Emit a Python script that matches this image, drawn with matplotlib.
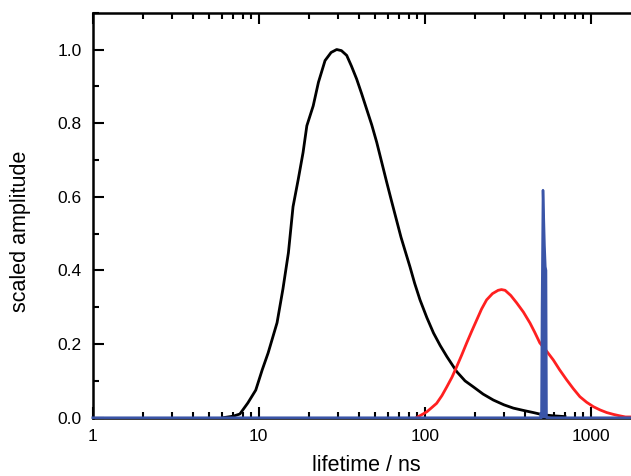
import matplotlib
matplotlib.use("Agg")
import matplotlib.pyplot as plt
from matplotlib.ticker import LogLocator, MultipleLocator, FixedLocator, FixedFormatter

plt.rcParams['font.family'] = ['Liberation Sans', 'DejaVu Sans']

# Black distribution (lifetime ns, scaled amplitude)
black_x = [6.1, 7.0, 7.7, 8.6, 9.6, 10.5, 11.4, 12.9, 14.0, 15.1, 16.1, 17.3, 18.5, 19.5,
           21.3, 22.9, 25.1, 27.3, 29.5, 31.5, 33.9, 36.2, 38.9, 41.7, 44.7, 48.0, 51.4,
           55.0, 59.0, 63.0, 67.8, 72.0, 76.0, 81.5, 87.0, 93.7, 103, 113, 124, 136, 156,
           175, 196, 225, 259, 300, 342, 400, 451, 514, 600, 700]
black_y = [0.0, 0.004, 0.01, 0.04, 0.075, 0.13, 0.176, 0.258, 0.35, 0.448, 0.573, 0.647,
           0.72, 0.793, 0.847, 0.911, 0.970, 0.992, 1.0, 0.997, 0.984, 0.955, 0.92, 0.88,
           0.838, 0.795, 0.748, 0.695, 0.640, 0.590, 0.535, 0.490, 0.455, 0.410, 0.365,
           0.32, 0.272, 0.23, 0.196, 0.166, 0.125, 0.10, 0.084, 0.064, 0.048, 0.035,
           0.026, 0.019, 0.014, 0.008, 0.005, 0.003]

# Red distribution
red_x = [89, 95, 103, 110, 118, 127, 136, 146, 156, 167, 179, 192, 206, 220, 236, 256,
         277, 290, 305, 330, 358, 393, 431, 460, 494, 540, 595, 650, 716, 785, 861, 945,
         1037, 1140, 1248, 1370, 1500, 1620, 1750]
red_y = [0.0, 0.007, 0.016, 0.027, 0.039, 0.06, 0.084, 0.11, 0.139, 0.17, 0.203, 0.235,
         0.266, 0.295, 0.32, 0.337, 0.346, 0.348, 0.346, 0.332, 0.312, 0.287, 0.257, 0.232,
         0.203, 0.182, 0.157, 0.13, 0.103, 0.079, 0.057, 0.042, 0.030, 0.021, 0.014,
         0.009, 0.005, 0.002, 0.002]

# Blue distribution (baseline + narrow spike)
blue_x = [1, 498, 501, 503, 505, 509, 516, 521, 527, 533, 538, 542, 1750]
blue_y = [0.0, 0.0, 0.012, 0.006, 0.0, 0.3, 0.618, 0.55, 0.466, 0.41, 0.40, 0.0, 0.0]

x_ticks = [1, 10, 100, 1000]
x_ticklabels = ['1', '10', '100', '1000']
y_ticks = [0.0, 0.2, 0.4, 0.6, 0.8, 1.0]
y_ticklabels = ['0.0', '0.2', '0.4', '0.6', '0.8', '1.0']

fig = plt.figure(figsize=(6.31, 4.76), dpi=100)
ax_w = (631 - 92.7) / 631 + 0.02
ax = fig.add_axes([92.7 / 631, 1 - 417.7 / 476, ax_w, (417.7 - 12.7) / 476])

ax.plot(black_x, black_y, color='black', lw=2.0, zorder=3)
ax.plot(red_x, red_y, color='#ff2020', lw=2.0, zorder=4)
ax.fill_between(blue_x, blue_y, 0, color='#3a55a8', lw=0, zorder=5)
ax.plot(blue_x, blue_y, color='#3a55a8', lw=1.8, zorder=6, clip_on=False)

ax.set_xscale('log')
ax.set_xlim(1, 10 ** (ax_w * 631 / 166.0))
ax.set_ylim(0, 1.1)

ax.xaxis.set_major_locator(FixedLocator(x_ticks))
ax.xaxis.set_major_formatter(FixedFormatter(x_ticklabels))
ax.xaxis.set_minor_locator(LogLocator(base=10, subs=[2, 3, 4, 5, 6, 7, 8, 9]))
ax.xaxis.set_minor_formatter(plt.NullFormatter())
ax.yaxis.set_major_locator(FixedLocator(y_ticks))
ax.yaxis.set_major_formatter(FixedFormatter(y_ticklabels))
ax.yaxis.set_minor_locator(MultipleLocator(0.1))

ax.tick_params(which='both', direction='in', top=True, right=False, width=1.5)
ax.tick_params(which='major', length=8, pad=8, labelsize=12.5)
ax.tick_params(which='minor', length=4.5)

for s in ['left', 'top', 'bottom']:
    ax.spines[s].set_linewidth(1.8)
ax.spines['right'].set_visible(False)

fig.text(20.5 / 631, 1 - 231 / 476, 'scaled amplitude', rotation=90, fontsize=15.5,
         ha='center', va='center')
fig.text(366 / 631, 1 - 471 / 476, 'lifetime / ns', fontsize=15.5, ha='center', va='baseline')

fig.savefig('out.png', dpi=100)
